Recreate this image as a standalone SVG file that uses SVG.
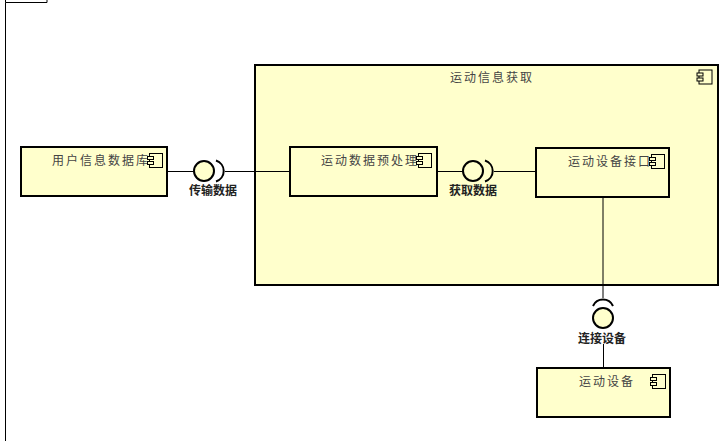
<svg xmlns="http://www.w3.org/2000/svg" width="728" height="441" viewBox="0 0 728 441">
<style>
text{font-family:"Noto Sans CJK SC","Liberation Sans",sans-serif}
.n{fill:#FFFFCC;stroke:#000;stroke-width:2}
.t{font-size:12px;letter-spacing:2px;fill:#444}
.b{font-size:12px;font-weight:bold;fill:#222;text-anchor:middle}
.l{fill:none;stroke:#000;stroke-width:1}
.c{fill:#FFFFCC;stroke:#000;stroke-width:2}
.a{fill:none;stroke:#000;stroke-width:2}
.i{fill:#FFFFCC;stroke:#000;stroke-width:1}
</style>
<defs>
<g id="ic"><rect class="i" x="2" y="0" width="13" height="14"/><rect class="i" x="0" y="3" width="6" height="3"/><rect class="i" x="0" y="8" width="6" height="3"/></g>
</defs>
<rect width="728" height="441" fill="#fff"/>
<g id="frame"><path d="M5.500 441V2.500H47V0" fill="none" stroke="#000"/><path d="M5.500 2.500V0" fill="none" stroke="#000"/></g>
<g id="n-outer"><rect class="n" x="255" y="65" width="463" height="220"/><text class="t" x="450" y="82">运动信息获取</text><use href="#ic" x="697" y="70"/></g>
<g id="connectors">
<path class="l" d="M168 171.500H194M225 171.500H290M437 171.500H463M494 171.500H536M603 197V298M603.500 344V368"/>
</g>
<g id="n-user"><rect class="n" x="21" y="147" width="146" height="49"/><text class="t" x="52" y="165">用户信息数据库</text><use href="#ic" x="147.500" y="153.500"/></g>
<g id="n-pre"><rect class="n" x="290" y="147" width="147" height="49"/><text class="t" x="321" y="165">运动数据预处理</text><use href="#ic" x="416.500" y="153.500"/></g>
<g id="n-iface"><rect class="n" x="536" y="148" width="133" height="49"/><text class="t" x="568" y="166">运动设备接口</text><use href="#ic" x="649.500" y="154.500"/></g>
<g id="n-dev"><rect class="n" x="537" y="368" width="133" height="49"/><text class="t" x="579" y="386">运动设备</text><use href="#ic" x="650.500" y="374.500"/></g>
<g id="i-transfer"><circle class="c" cx="204" cy="171" r="10"/><path class="a" d="M216 160.500A11 11 0 0 1 216 181.500"/><text class="b" x="213" y="195">传输数据</text></g>
<g id="i-fetch"><circle class="c" cx="473" cy="171" r="10"/><path class="a" d="M485 160.500A11 11 0 0 1 485 181.500"/><text class="b" x="473" y="195">获取数据</text></g>
<g id="i-connect"><circle class="c" cx="603" cy="318" r="10"/><path class="a" d="M593 306A11 11 0 0 1 613 306"/><text class="b" x="602" y="343">连接设备</text></g>
</svg>
